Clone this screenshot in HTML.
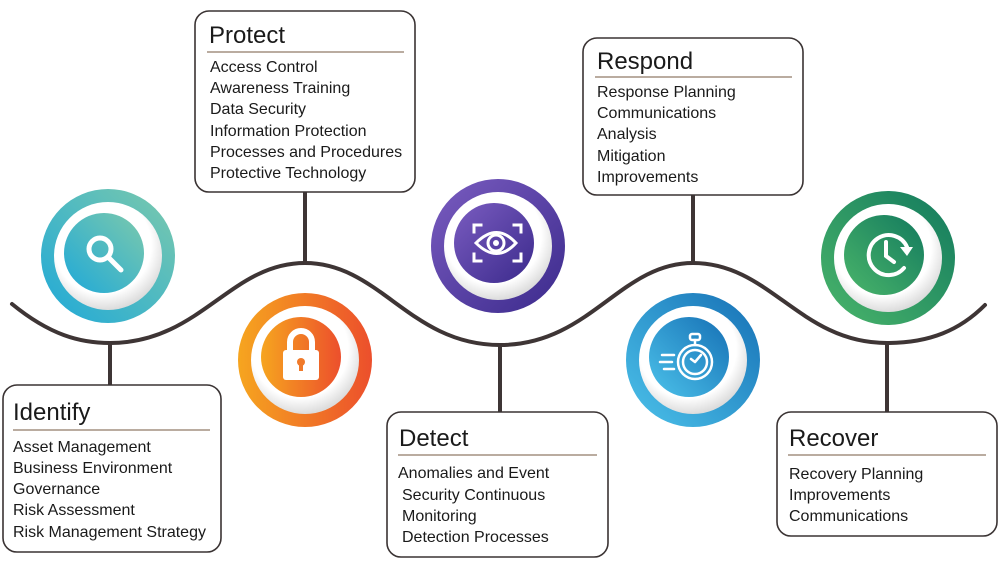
<!DOCTYPE html>
<html><head><meta charset="utf-8"><style>
html,body{margin:0;padding:0;background:#fff;}
svg{display:block;}
text{font-family:"Liberation Sans",sans-serif;fill:#1a1a1a;}
.t{font-size:24px;}
.i{font-size:16px;}
</style></head><body>
<svg width="999" height="574" viewBox="0 0 999 574" xmlns="http://www.w3.org/2000/svg">
<defs>
<linearGradient id="gT" x1="0" y1="1" x2="1" y2="0"><stop offset="0" stop-color="#1fa9d8"/><stop offset="1" stop-color="#7cc9ac"/></linearGradient>
<linearGradient id="gO" x1="0" y1="0" x2="1" y2="0"><stop offset="0" stop-color="#f6a51f"/><stop offset="1" stop-color="#ec4f2c"/></linearGradient>
<linearGradient id="gP" x1="0" y1="0" x2="1" y2="1"><stop offset="0" stop-color="#7a5cc0"/><stop offset="1" stop-color="#3b2a8c"/></linearGradient>
<linearGradient id="gB" x1="0" y1="1" x2="1" y2="0"><stop offset="0" stop-color="#4cc2ea"/><stop offset="1" stop-color="#1670b5"/></linearGradient>
<linearGradient id="gG" x1="0" y1="1" x2="1" y2="0"><stop offset="0" stop-color="#4ab56a"/><stop offset="1" stop-color="#137a5e"/></linearGradient>
<radialGradient id="ring" cx="0.45" cy="0.4" r="0.6"><stop offset="0.75" stop-color="#ffffff"/><stop offset="1" stop-color="#dcdcdc"/></radialGradient>
</defs>

<g stroke="#3e3535" stroke-width="4" fill="none" stroke-linecap="round">
<path d="M12,304 C50,335 80,343 110,343 C200,343 230,263 305,263 C380,263 410,345 500,345 C590,345 620,263 693,263 C770,263 800,343 887,343 C930,343 960,330 985,305"/>
<line x1="305" y1="192" x2="305" y2="263"/>
<line x1="693" y1="195" x2="693" y2="263"/>
<line x1="110" y1="343" x2="110" y2="385"/>
<line x1="500" y1="345" x2="500" y2="412"/>
<line x1="887" y1="343" x2="887" y2="412"/>
</g>

<g>
<circle cx="108" cy="256" r="67" fill="url(#gT)"/><circle cx="108" cy="256" r="54" fill="url(#ring)"/><circle cx="104" cy="253" r="40" fill="url(#gT)"/>
<circle cx="305" cy="360" r="67" fill="url(#gO)"/><circle cx="305" cy="360" r="54" fill="url(#ring)"/><circle cx="301" cy="357" r="40" fill="url(#gO)"/>
<circle cx="498" cy="246" r="67" fill="url(#gP)"/><circle cx="498" cy="246" r="54" fill="url(#ring)"/><circle cx="494" cy="243" r="40" fill="url(#gP)"/>
<circle cx="693" cy="360" r="67" fill="url(#gB)"/><circle cx="693" cy="360" r="54" fill="url(#ring)"/><circle cx="689" cy="357" r="40" fill="url(#gB)"/>
<circle cx="888" cy="258" r="67" fill="url(#gG)"/><circle cx="888" cy="258" r="54" fill="url(#ring)"/><circle cx="884" cy="255" r="40" fill="url(#gG)"/>
</g>

<g fill="none" stroke="#fff" stroke-width="5" stroke-linecap="round">
<circle cx="100" cy="249" r="11"/><line x1="108" y1="257" x2="121" y2="270"/>
</g>
<g fill="#fff">
<path d="M290,352 v-10 a11,11 0 0 1 22,0 v10" fill="none" stroke="#fff" stroke-width="6"/>
<rect x="283" y="350" width="36" height="30" rx="3"/>
<circle cx="301" cy="362" r="4" fill="#f07a2a"/><rect x="299" y="362" width="4" height="9" fill="#f07a2a"/>
</g>
<g fill="none" stroke="#fff" stroke-width="3" stroke-linecap="square">
<path d="M474,232 v-7 h7 M514,225 h7 v7 M474,254 v7 h7 M521,254 v7 h-7"/>
<path d="M476,243 Q497,222 516,243 Q497,264 476,243 Z"/>
<circle cx="496" cy="243" r="8"/>
</g>
<circle cx="496" cy="243" r="3" fill="#fff"/>
<g fill="none" stroke="#fff" stroke-width="2.5" stroke-linecap="round">
<circle cx="695" cy="362" r="17"/><circle cx="695" cy="362" r="12"/>
<rect x="690" y="334" width="10" height="6" rx="2"/><line x1="695" y1="340" x2="695" y2="345"/>
<path d="M695,362 l-4,-3 M695,362 l6,-7"/>
<line x1="662" y1="355" x2="674" y2="355"/><line x1="660" y1="362" x2="672" y2="362"/><line x1="664" y1="369" x2="674" y2="369"/>
</g>
<g fill="none" stroke="#fff" stroke-width="4" stroke-linecap="round">
<path d="M904,268 A20,20 0 1 1 907,247"/>
<path d="M886,242 v14 l8,6"/>
</g>
<path d="M900,247 l13,0 -6,9 z" fill="#fff"/>

<g fill="#fff" stroke="#3a3333" stroke-width="1.6">
<rect x="195" y="11" width="220" height="181" rx="14"/>
<rect x="583" y="38" width="220" height="157" rx="14"/>
<rect x="3" y="385" width="218" height="167" rx="14"/>
<rect x="387" y="412" width="221" height="145" rx="14"/>
<rect x="777" y="412" width="220" height="124" rx="14"/>
</g>
<g stroke="#a39080" stroke-width="1.5">
<line x1="207" y1="52" x2="404" y2="52"/>
<line x1="595" y1="77" x2="792" y2="77"/>
<line x1="13" y1="430" x2="210" y2="430"/>
<line x1="398" y1="455" x2="597" y2="455"/>
<line x1="788" y1="455" x2="986" y2="455"/>
</g>

<text class="t" x="209" y="43">Protect</text>
<g class="i"><text x="210" y="72">Access Control</text><text x="210" y="93">Awareness Training</text><text x="210" y="114">Data Security</text><text x="210" y="136">Information Protection</text><text x="210" y="157">Processes and Procedures</text><text x="210" y="178">Protective Technology</text></g>

<text class="t" x="597" y="69">Respond</text>
<g class="i"><text x="597" y="97">Response Planning</text><text x="597" y="118">Communications</text><text x="597" y="139">Analysis</text><text x="597" y="161">Mitigation</text><text x="597" y="182">Improvements</text></g>

<text class="t" x="13" y="420">Identify</text>
<g class="i"><text x="13" y="452">Asset Management</text><text x="13" y="473">Business Environment</text><text x="13" y="494">Governance</text><text x="13" y="515">Risk Assessment</text><text x="13" y="537">Risk Management Strategy</text></g>

<text class="t" x="399" y="446">Detect</text>
<g class="i"><text x="398" y="478">Anomalies and Event</text><text x="402" y="500">Security Continuous</text><text x="402" y="521">Monitoring</text><text x="402" y="542">Detection Processes</text></g>

<text class="t" x="789" y="446">Recover</text>
<g class="i"><text x="789" y="479">Recovery Planning</text><text x="789" y="500">Improvements</text><text x="789" y="521">Communications</text></g>
</svg>
</body></html>
